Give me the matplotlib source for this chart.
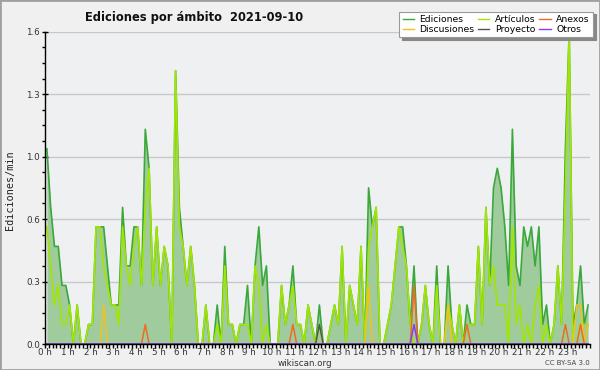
import matplotlib
matplotlib.use("Agg")
import matplotlib.pyplot as plt
from matplotlib.patches import Rectangle
from matplotlib.lines import Line2D
import numpy as np

# ---- data: edits per 10-minute slot (144 slots), plotted as edits/min ----
ediciones = [10, 7, 5, 5, 3, 3, 2, 0, 2, 0,
             0, 1, 1, 6, 6, 6, 4, 2, 2, 2,
             7, 4, 4, 6, 6, 3, 11, 9, 3, 6,
             3, 5, 4, 0, 14, 7, 5, 3, 5, 3,
             0, 0, 2, 0, 0, 2, 0, 5, 1, 1,
             0, 1, 1, 3, 0, 4, 6, 3, 4, 0,
             0, 0, 3, 1, 2, 4, 1, 1, 0, 2,
             1, 0, 2, 0, 0, 1, 2, 1, 5, 0,
             3, 2, 1, 5, 0, 8, 6, 7, 0, 0,
             1, 2, 4, 6, 6, 4, 1, 4, 0, 1,
             3, 1, 0, 4, 0, 0, 4, 1, 0, 2,
             0, 2, 1, 1, 5, 1, 7, 3, 8, 9,
             8, 6, 3, 11, 4, 3, 6, 5, 6, 4,
             6, 1, 2, 0, 1, 4, 1, 10, 16, 1,
             2, 4, 1, 2]
articulos = [6, 4, 2, 3, 1, 1, 2, 0, 2, 0,
             0, 1, 1, 6, 6, 4, 3, 2, 2, 1,
             6, 4, 3, 5, 6, 3, 7, 9, 3, 6,
             3, 5, 4, 0, 14, 6, 5, 3, 5, 3,
             0, 0, 2, 0, 0, 1, 0, 4, 1, 1,
             0, 1, 1, 1, 0, 4, 3, 0, 1, 0,
             0, 0, 3, 1, 2, 3, 1, 1, 0, 2,
             1, 0, 1, 0, 0, 1, 2, 1, 5, 0,
             3, 2, 1, 5, 0, 5, 6, 7, 0, 0,
             1, 2, 4, 6, 5, 4, 1, 0, 0, 1,
             3, 1, 0, 3, 0, 0, 2, 1, 0, 2,
             0, 1, 1, 1, 5, 1, 7, 3, 4, 2,
             2, 2, 0, 6, 1, 2, 0, 1, 0, 2,
             3, 0, 1, 0, 1, 4, 1, 8, 16, 0,
             0, 1, 1, 1]
discusiones_spikes = {15: 2, 85: 3, 106: 2, 140: 2, 141: 2, 143: 1}
anexos_spikes = {26: 1, 65: 1, 97: 3, 111: 1, 137: 1, 141: 1}
proyecto_spikes = {72: 1}
otros_spikes = {97: 1}

hour_labels = [f"{h} h" for h in range(24)]
y_ticks = [0, 0.32, 0.64, 0.96, 1.28, 1.6]
y_labels = ["0.0", "0.3", "0.6", "1.0", "1.3", "1.6"]

n = len(ediciones)

def series(spikes):
    s = np.zeros(n)
    for k, v in spikes.items():
        s[k] = v
    return s

t = (np.arange(n) + 0.5) / 6.0
ed = np.array(ediciones) / 10.0
ar = np.array(articulos) / 10.0
di = series(discusiones_spikes) / 10.0
an = series(anexos_spikes) / 10.0
pr = series(proyecto_spikes) / 10.0
ot = series(otros_spikes) / 10.0

c_ed = "#3aa83a"
c_fill = "#9fcb9d"
c_ar = "#a2e600"
c_di = "#f2c21a"
c_an = "#f06a22"
c_pr = "#555555"
c_ot = "#8a3cf0"

fig = plt.figure(figsize=(6.0, 3.7), dpi=100, facecolor="#f0f0f0")
ax = fig.add_axes([45/600, 1-344/370, 545/600, (344-31.7)/370])
ax.set_facecolor("#eef0f2")

ax.fill_between(t, 0, ed, color=c_fill, linewidth=0, zorder=2)
ax.plot(t, ed, color=c_ed, lw=1.2, zorder=3)
ax.plot(t, ar, color=c_ar, lw=1.2, zorder=4)
ax.plot(t, di, color=c_di, lw=1.1, zorder=5)
ax.plot(t, an, color=c_an, lw=1.1, zorder=6)
ax.plot(t, pr, color=c_pr, lw=1.1, zorder=7)
ax.plot(t, ot, color=c_ot, lw=1.1, zorder=8)

ax.set_xlim(0, 24)
ax.set_ylim(0, 1.6)
ax.set_yticks(y_ticks)
ax.set_yticklabels(y_labels)
ax.set_yticks(np.arange(0, 1.601, 0.08), minor=True)
ax.set_xticks(range(24))
ax.set_xticklabels(hour_labels)
ax.set_xticks(np.arange(0, 24.01, 1/6), minor=True)
ax.grid(axis="y", which="major", color="#c8c8c8", lw=1.0, zorder=1)
ax.set_axisbelow(True)

for s in ("top", "right"):
    ax.spines[s].set_visible(False)
for s in ("left", "bottom"):
    ax.spines[s].set_color("black")
    ax.spines[s].set_linewidth(1.0)
    ax.spines[s].set_zorder(10)

ax.tick_params(axis="y", which="major", direction="inout", length=5, width=1,
               labelsize=6.3, labelcolor="#333333", pad=1)
ax.tick_params(axis="y", which="minor", direction="out", length=2.5, width=1)
ax.tick_params(axis="x", which="major", direction="out", length=3, width=1,
               labelsize=6.3, labelcolor="#333333", pad=0)
ax.tick_params(axis="x", which="minor", direction="out", length=3, width=1)

fig.text(85/600, 1-17/370, "Ediciones por ámbito  2021-09-10", fontsize=8.3,
         fontweight="bold", ha="left", va="center", color="#111111")
fig.text(10/600, 1-190/370, "Ediciones/min", rotation=90, fontsize=7.3,
         family="DejaVu Sans Mono", ha="center", va="center", color="#222222")
fig.text(305/600, 1-363/370, "wikiscan.org", fontsize=6.3, ha="center",
         va="center", color="#333333")
fig.text(590/600, 1-363/370, "CC BY-SA 3.0", fontsize=5, ha="right",
         va="center", color="#444444")

handles = [Line2D([], [], color=c_ed, lw=1), Line2D([], [], color=c_di, lw=1),
           Line2D([], [], color=c_ar, lw=1), Line2D([], [], color=c_pr, lw=1),
           Line2D([], [], color=c_an, lw=1), Line2D([], [], color=c_ot, lw=1)]
labels = ["Ediciones", "Discusiones", "Artículos", "Proyecto", "Anexos", "Otros"]
leg = fig.legend(handles, labels, ncol=3, loc="upper right",
                 bbox_to_anchor=(593/600, 1-11.7/370), fontsize=6.7,
                 frameon=True, fancybox=False, framealpha=1, edgecolor="#999999",
                 facecolor="white", handlelength=1.2, handletextpad=0.6,
                 columnspacing=0.4, labelspacing=0.1, borderpad=0.35,
                 borderaxespad=0,
                 shadow={"color": "#888888", "alpha": 1})
leg.get_frame().set_linewidth(0.8)

fig.patches.append(Rectangle((0, 0), 1, 1, transform=fig.transFigure,
                             fill=False, edgecolor="#a0a0a0", lw=2))

fig.savefig("out.png", dpi=100, facecolor=fig.get_facecolor())
